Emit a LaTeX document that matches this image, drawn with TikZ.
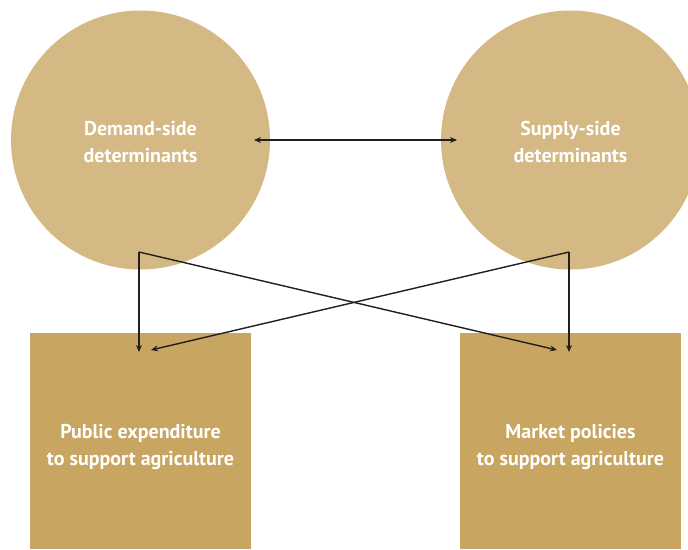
\documentclass[tikz,border=0pt]{standalone}
\usepackage{fontspec}
\setmainfont{PT Sans}
\usetikzlibrary{arrows.meta}
\definecolor{circfill}{RGB}{212,185,132}
\definecolor{boxfill}{RGB}{200,166,97}
\definecolor{linecol}{RGB}{34,30,28}
\begin{document}
\begin{tikzpicture}[x=1pt,y=-1pt,
  disc/.style={circle,fill=circfill,minimum size=259pt,inner sep=0pt},
  panel/.style={rectangle,fill=boxfill,minimum width=221pt,minimum height=216pt,inner sep=0pt},
  label/.style={text=white,font=\bfseries\fontsize{20}{27}\selectfont,align=center},
  conn/.style={draw=linecol,line width=1.4pt,-{Stealth[length=7pt,width=6pt]}},
  conn2/.style={draw=linecol,line width=1.4pt,{Stealth[length=7pt,width=6pt]}-{Stealth[length=7pt,width=6pt]}}]
\useasboundingbox (0,0) rectangle (688,549);
\clip (0,0) rectangle (688,549);
\node[disc] (dem) at (140.5,140) {};
\node[disc] (sup) at (570.5,140) {};
\node[panel] (pub) at (140.5,441) {};
\node[panel] (mkt) at (570.5,441) {};
\node[label] (demt) at (140.5,142) {Demand-side\\determinants};
\node[label] (supt) at (570.5,142) {Supply-side\\determinants};
\node[label] (pubt) at (140.5,447) {Public expenditure\\to support agriculture};
\node[label] (mktt) at (570.5,447) {Market policies\\to support agriculture};
\coordinate (dv) at (139,252);
\coordinate (sv) at (569,252);
\coordinate (pa) at (139,352);
\coordinate (pb) at (151,350);
\coordinate (ma) at (569,352);
\coordinate (mb) at (557,350);
\coordinate (da) at (254,140);
\coordinate (sa) at (457,140);
\draw[conn2] (da) -- (sa);
\draw[conn] (dv) -- (pa);
\draw[conn] (dv) -- (mb);
\draw[conn] (sv) -- (ma);
\draw[conn] (sv) -- (pb);
\end{tikzpicture}
\end{document}
